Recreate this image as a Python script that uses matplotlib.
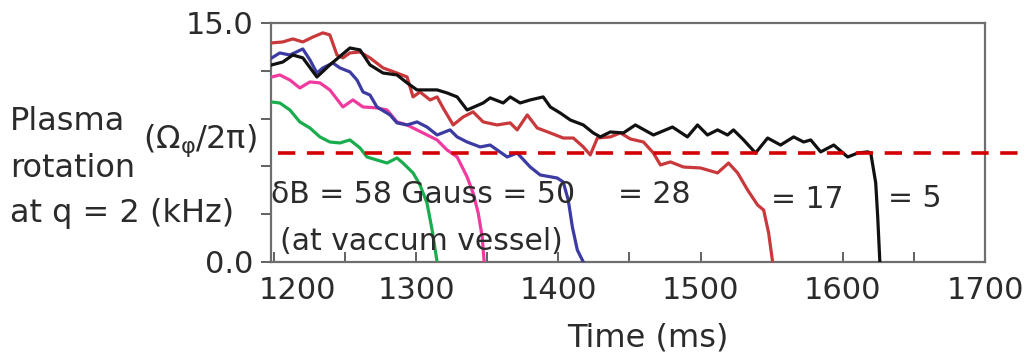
import matplotlib
matplotlib.use("Agg")
import matplotlib.pyplot as plt
import matplotlib.transforms as mtransforms
from matplotlib.ticker import FixedLocator, MultipleLocator

plt.rcParams['font.family'] = ['DejaVu Sans']

TXT = '#2b2b2b'

# rotation traces for each error-field amplitude (time in ms, rotation in kHz)
t_58 = [1198.6, 1204.2, 1211.3, 1218.3, 1225.4, 1232.4, 1239.4, 1246.5, 1253.5, 1260.6,
        1265.5, 1272.5, 1279.6, 1286.6, 1290.8, 1297.9, 1302.8, 1307.7, 1311.3, 1314.8]
v_58 = [10.04, 9.98, 9.54, 8.79, 8.41, 7.85, 7.53, 7.47, 7.66, 7.16,
        6.59, 6.40, 6.21, 6.53, 6.21, 5.59, 4.83, 3.70, 2.01, 0.0]

t_50 = [1198.6, 1204.2, 1211.3, 1218.3, 1225.4, 1232.4, 1239.4, 1248.6, 1255.6, 1262.7,
        1272.5, 1279.6, 1286.6, 1293.7, 1304.9, 1314.8, 1321.8, 1328.9, 1335.9, 1340.1,
        1343.7, 1346.5, 1347.9]
v_50 = [11.61, 11.74, 11.42, 10.92, 11.30, 11.24, 10.80, 9.73, 10.17, 9.73,
        9.67, 9.54, 8.79, 8.60, 8.10, 7.66, 7.03, 6.59, 5.34, 4.33,
        3.08, 1.57, 0.0]

t_28 = [1198.6, 1204.2, 1211.3, 1220.4, 1225.4, 1230.3, 1234.5, 1241.5, 1246.5, 1253.5,
        1258.5, 1262.7, 1267.6, 1272.5, 1281.7, 1286.6, 1293.7, 1300.7, 1307.7, 1314.8,
        1323.9, 1328.9, 1335.9, 1345.1, 1352.1, 1364.1, 1371.1, 1380.3, 1387.3, 1399.3,
        1403.5, 1407.0, 1409.9, 1413.4, 1417.6]
v_28 = [12.81, 13.12, 12.99, 13.37, 12.68, 11.86, 12.18, 12.49, 12.18, 11.93,
        11.42, 10.67, 10.48, 9.73, 9.23, 8.73, 8.60, 8.79, 8.47, 7.97,
        8.29, 7.85, 7.53, 7.22, 7.34, 6.59, 6.84, 5.96, 5.46, 5.27,
        5.02, 3.89, 2.20, 0.75, 0.0]

t_17 = [1198.6, 1206.3, 1213.4, 1220.4, 1227.5, 1234.5, 1239.4, 1244.4, 1248.6, 1253.5,
        1260.6, 1267.6, 1276.8, 1286.6, 1293.7, 1297.9, 1302.8, 1309.9, 1314.8, 1319.0,
        1326.1, 1333.1, 1340.1, 1347.2, 1357.0, 1366.2, 1371.1, 1378.2, 1385.2, 1394.4,
        1403.5, 1410.6, 1417.6, 1422.5, 1427.5, 1436.6, 1443.7, 1450.7, 1459.9, 1466.9,
        1471.8, 1478.9, 1488.0, 1500.0, 1512.0, 1519.7, 1526.1, 1533.1, 1540.1, 1544.4,
        1547.9, 1550.7]
v_17 = [13.75, 13.81, 14.00, 13.81, 14.12, 14.38, 14.25, 12.99, 12.81, 13.12,
        13.18, 12.81, 12.18, 11.86, 11.61, 10.36, 10.67, 10.17, 10.36, 9.67,
        8.60, 9.10, 9.42, 8.79, 8.60, 8.73, 8.29, 9.23, 8.41, 8.10,
        7.78, 7.78, 7.22, 6.72, 7.78, 7.85, 8.10, 7.72, 7.53, 6.84,
        6.09, 6.28, 5.96, 5.90, 5.59, 6.21, 5.59, 4.52, 3.58, 3.26,
        1.82, 0.0]

t_5 = [1198.6, 1206.3, 1213.4, 1220.4, 1230.3, 1239.4, 1253.5, 1260.6, 1267.6, 1276.8,
       1286.6, 1293.7, 1300.7, 1314.8, 1321.8, 1328.9, 1335.9, 1347.2, 1352.1, 1361.3,
       1366.2, 1373.2, 1380.3, 1389.4, 1394.4, 1401.4, 1408.5, 1417.6, 1424.6, 1429.6,
       1436.6, 1445.8, 1454.2, 1466.9, 1480.3, 1490.8, 1497.9, 1504.9, 1512.0, 1519.0,
       1523.2, 1530.3, 1538.7, 1547.2, 1556.3, 1565.5, 1572.5, 1577.5, 1584.5, 1593.7,
       1603.5, 1610.6, 1617.6, 1619.7, 1623.2, 1624.6, 1626.1]
v_5 = [12.37, 12.55, 12.99, 12.81, 11.61, 12.37, 13.43, 13.31, 12.37, 11.86,
       11.74, 11.24, 10.80, 10.80, 10.61, 10.36, 9.54, 9.98, 10.30, 9.98,
       10.36, 9.98, 10.17, 10.36, 9.73, 9.35, 8.91, 8.60, 8.10, 7.85,
       8.16, 8.10, 8.60, 7.97, 8.47, 7.85, 8.60, 7.97, 8.29, 7.97,
       8.29, 7.66, 6.84, 7.78, 7.34, 7.85, 7.53, 7.66, 6.91, 7.34,
       6.59, 6.84, 6.91, 6.84, 4.96, 2.82, 0.0]

# locking threshold
threshold = 6.84
threshold_span = (1203, 1730)

x_ticks = [1200, 1300, 1400, 1500, 1600, 1700]
y_ticks = [0, 3, 6, 9, 12, 15]
y_tick_labels = ['0.0', '', '', '', '', '15.0']

series = [
    (t_58, v_58, '#1aad4e'),
    (t_50, v_50, '#f03a9e'),
    (t_28, v_28, '#3b3ba3'),
    (t_17, v_17, '#c9393b'),
    (t_5, v_5, '#111111'),
]

fig = plt.figure(figsize=(10.26, 3.58), dpi=100)
ax = fig.add_axes([0.2641, 0.2682, 0.6959, 0.6676])

for t, v, c in series:
    ax.plot(t, v, color=c, lw=2.3, solid_joinstyle='round', zorder=3)

ax.plot(threshold_span, [threshold, threshold], color='#d40000', lw=2.6,
        dashes=(4.8, 3.2), clip_on=False, zorder=4)

ax.set_xlim(1198, 1700)
ax.set_ylim(0, 15)

ax.xaxis.set_major_locator(FixedLocator(x_ticks))
ax.xaxis.set_minor_locator(MultipleLocator(50))
ax.yaxis.set_major_locator(FixedLocator(y_ticks))
ax.set_yticklabels(y_tick_labels)

ax.tick_params(axis='x', which='both', direction='in', length=7, width=1.3,
               color='#555555', top=False, labelsize=22, labelcolor=TXT, pad=10)
ax.tick_params(axis='y', direction='out', length=7, width=1.3,
               color='#555555', labelsize=22, labelcolor=TXT, pad=5.5)

for s in ax.spines.values():
    s.set_color('#6e6e6e')
    s.set_linewidth(1.6)

# field amplitude annotations
ann = dict(fontsize=21.5, color=TXT, va='baseline', zorder=5)
ax.text(1198.3, 3.70, 'δB = 58 Gauss = 50', **ann)
ax.text(1442.3, 3.70, '= 28', **ann)
ax.text(1549.3, 3.39, '= 17', **ann)
ax.text(1631.7, 3.45, '= 5', **ann)
ax.text(1204.2, 0.75, '(at vaccum vessel)', **ann)

# axis descriptions
lab = dict(fontsize=23, color=TXT, va='baseline')
fig.text(0.010, 0.637, 'Plasma', **lab)
fig.text(0.010, 0.506, 'rotation', **lab)
fig.text(0.010, 0.380, 'at q = 2 (kHz)', **lab)
fig.text(0.139, 0.587, r'(Ω$_{\mathregular{φ}}$/2π)', **lab)
fig.text(0.6316, 0.031, 'Time (ms)', ha='center', **lab)

# nudge the first time label off the corner
fig.canvas.draw()
first = ax.xaxis.get_major_ticks()[0].label1
first.set_transform(first.get_transform() +
                    mtransforms.ScaledTranslation(0.24, 0, fig.dpi_scale_trans))

fig.savefig('out.png', dpi=100)
